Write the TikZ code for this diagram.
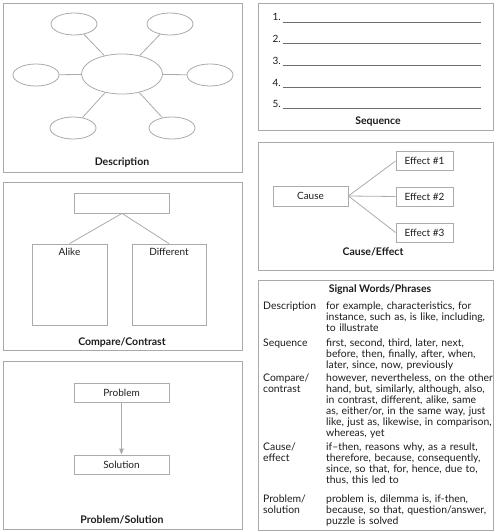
\documentclass[tikz,border=0pt]{standalone}
\usepackage{fontspec}
\setmainfont{Lato}
\usetikzlibrary{shapes.geometric,arrows.meta}
\definecolor{frame}{HTML}{A9A9A9}
\definecolor{conn}{HTML}{ABABAB}
\definecolor{rulec}{HTML}{6E6E6E}
\definecolor{ink}{HTML}{1C1C1C}
\begin{document}
\begin{tikzpicture}[x=1pt,y=-1pt,
  panel/.style={draw=frame, line width=0.9pt},
  bub/.style={ellipse, draw=conn, line width=0.8pt, inner sep=0pt, minimum width=46pt, minimum height=22pt},
  box/.style={rectangle, draw=conn, line width=0.8pt, inner sep=0pt, font=\fontsize{10}{12}\selectfont, text=ink},
  link/.style={draw=conn, line width=0.8pt},
  paneltitle/.style={font=\fontsize{10.5}{12}\selectfont\bfseries, text=ink},
  plain/.style={font=\fontsize{10}{12}\selectfont, text=ink, inner sep=0pt},
  seqline/.style={draw=rulec, line width=0.8pt},
  cell/.style={font=\fontsize{10.4}{11}\selectfont, text=ink, inner sep=0pt, anchor=base west, align=left},
  keycell/.style={cell, text width=62pt},
  valcell/.style={cell, text width=168pt}
]
\useasboundingbox (0,0) rectangle (500,532);

% ---------- Description ----------
\draw[panel] (3,3) rectangle (242,172);
\node[bub, minimum width=81pt, minimum height=40pt] (dc) at (122,74) {};
\node[bub] (d1) at (74,24) {};
\node[bub] (d2) at (170,24) {};
\node[bub] (d3) at (36,75) {};
\node[bub] (d4) at (210,75) {};
\node[bub] (d5) at (73,128) {};
\node[bub] (d6) at (172,128) {};
\foreach \n in {d1,d2,d3,d4,d5,d6} \draw[link] (\n) -- (dc);
\node[paneltitle] (tdesc) at (122,162) {Description};

% ---------- Sequence ----------
\draw[panel] (258,3) rectangle (493,130);
\foreach \i/\y in {1/22,2/43.7,3/65.4,4/87.1,5/108.8}{
  \coordinate (sa\i) at (283,\y);
  \coordinate (sb\i) at (481,\y);
  \draw[seqline] (sa\i) -- (sb\i);
  \node[plain, anchor=base east] (sn\i) at (281,\y-1) {\i.};
}
\node[paneltitle] (tseq) at (378,122) {Sequence};

% ---------- Cause/Effect ----------
\draw[panel] (258,142) rectangle (493,270);
\node[box, minimum width=75pt, minimum height=20pt] (cause) at (310.5,196) {Cause};
\node[box, minimum width=57pt, minimum height=19pt] (e1) at (424.5,161) {Effect \#1};
\node[box, minimum width=57pt, minimum height=19pt] (e2) at (424.5,196.5) {Effect \#2};
\node[box, minimum width=57pt, minimum height=19pt] (e3) at (424.5,232.5) {Effect \#3};
\foreach \n in {e1,e2,e3} \draw[link] (cause.east) -- (\n.west);
\node[paneltitle] (tce) at (373,252) {Cause/Effect};

% ---------- Compare/Contrast ----------
\draw[panel] (3,182) rectangle (242,350);
\node[box, minimum width=95pt, minimum height=20pt] (ctop) at (122,203) {};
\node[box, minimum width=75pt, minimum height=81pt] (alike) at (69.5,284.5) {};
\node[box, minimum width=74pt, minimum height=81pt] (diff) at (169,284.5) {};
\draw[link] (ctop.south) -- (alike.north);
\draw[link] (ctop.south) -- (diff.north);
\node[plain] (talike) at (69.5,252) {Alike};
\node[plain] (tdiff) at (169,252) {Different};
\node[paneltitle] (tcc) at (122,342) {Compare/Contrast};

% ---------- Problem/Solution ----------
\draw[panel] (3,361) rectangle (242,529);
\node[box, minimum width=95pt, minimum height=19pt] (prob) at (121.5,392.5) {Problem};
\node[box, minimum width=95pt, minimum height=19pt] (sol) at (121.5,464.5) {Solution};
\draw[link, -{Triangle[length=6pt,width=4.5pt]}, color=conn] (prob.south) -- (sol.north);
\node[paneltitle] (tps) at (122,520) {Problem/Solution};

% ---------- Signal Words/Phrases ----------
\draw[panel] (258,280) rectangle (493,530);
\node[paneltitle] (tsig) at (380,290) {Signal Words/Phrases};
\node[keycell] (k1) at (263,309.5) {Description};
\node[valcell] (v1) at (326,309.5) {for example, characteristics, for\\instance, such as, is like, including,\\to illustrate};
\node[keycell] (k2) at (263,346) {Sequence};
\node[valcell] (v2) at (326,346) {first, second, third, later, next,\\before, then, finally, after, when,\\later, since, now, previously};
\node[keycell] (k3) at (263,381.5) {Compare/\\contrast};
\node[valcell] (v3) at (326,381.5) {however, nevertheless, on the other\\hand, but, similarly, although, also,\\in contrast, different, alike, same\\as, either/or, in the same way, just\\like, just as, likewise, in comparison,\\whereas, yet};
\node[keycell] (k4) at (263,450.5) {Cause/\\effect};
\node[valcell] (v4) at (326,450.5) {if–then, reasons why, as a result,\\therefore, because, consequently,\\since, so that, for, hence, due to,\\thus, this led to};
\node[keycell] (k5) at (263,502.5) {Problem/\\solution};
\node[valcell] (v5) at (326,502.5) {problem is, dilemma is, if-then,\\because, so that, question/answer,\\puzzle is solved};
\end{tikzpicture}
\end{document}
